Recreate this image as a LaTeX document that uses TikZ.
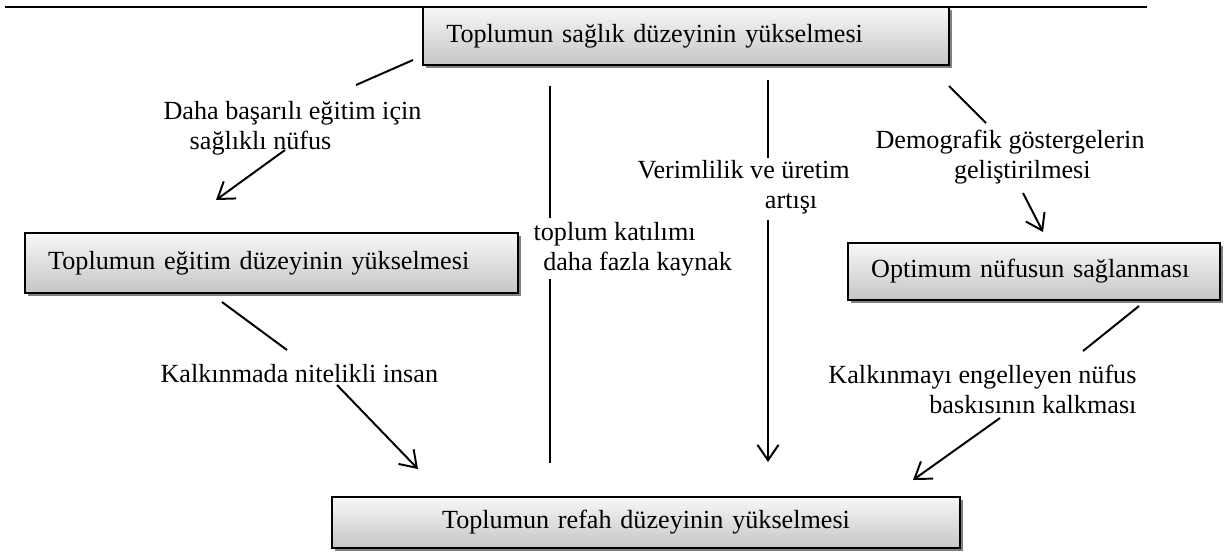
\documentclass[tikz,border=0pt]{standalone}
\usepackage{fontspec}
\setmainfont{Liberation Serif}
\usepackage{tikz}
\usetikzlibrary{arrows.meta,shadows,positioning,calc}
\tikzstyle{box}=[rectangle,draw=black,line width=0.8pt,top color=gray!6,bottom color=gray!45,
  drop shadow={shadow xshift=0.04cm,shadow yshift=-0.04cm,fill=black!50,opacity=1},
  inner xsep=0.29cm,inner ysep=0pt,align=left]
\tikzstyle{lbl}=[inner sep=0pt]
\tikzstyle{link}=[line width=0.7pt]
\tikzstyle{arrow link}=[link,-{Straight Barb[length=5.5pt,width=7.5pt]}]

\begin{document}
\begin{tikzpicture}[x=0.0125cm,y=-0.0125cm,font=\fontsize{9.3}{10.6}\selectfont]
  \useasboundingbox (0,0) rectangle (1232,552);
  \draw[line width=0.7pt] (5,7) -- (1147,7);

  \node[box,minimum height=0.725cm,text width=5.99cm] (saglik) at (686,36) {Toplumun sağlık düzeyinin yükselmesi};
  \node[box,minimum height=0.75cm,text width=5.58cm] (egitim) at (271.5,263) {Toplumun eğitim düzeyinin yükselmesi};
  \node[box,minimum height=0.71cm,text width=4.07cm] (optimum) at (1034,271.5) {Optimum nüfusun sağlanması};
  \node[box,minimum height=0.64cm,text width=7.27cm,align=center] (refah) at (646,522.5) {Toplumun refah düzeyinin yükselmesi};

  \node[lbl,anchor=west,align=left] (basari) at (163,128) {Daha başarılı eğitim için\\\hspace*{1em}sağlıklı nüfus};
  \node[lbl,anchor=west] (nitelik) at (160,374) {Kalkınmada nitelikli insan};
  \node[lbl,anchor=west,align=left] (katilim) at (533,249) {toplum katılımı\\\hspace*{0.37em}daha fazla kaynak};
  \node[lbl,anchor=west,align=left] (verim) at (637,187) {Verimlilik ve üretim\\\hspace*{4.87em}artışı};
  \node[lbl,anchor=west,align=left] (demografik) at (875,157) {Demografik göstergelerin\\\hspace*{3em}geliştirilmesi};
  \node[lbl,anchor=east,align=right] (baski) at (1137,389) {Kalkınmayı engelleyen nüfus\\baskısının kalkması};

  \coordinate (s1) at (413,60);   \coordinate (e1) at (356,85);
  \coordinate (s2) at (285,150);  \coordinate (e2) at (216,200);
  \coordinate (s3) at (222,302);  \coordinate (e3) at (287,350);
  \coordinate (s4) at (337,385);  \coordinate (e4) at (418,469);
  \coordinate (s5) at (550,86);   \coordinate (e5) at (550,218);
  \coordinate (s6) at (550,279);  \coordinate (e6) at (550,463);
  \coordinate (s7) at (768,80);   \coordinate (e7) at (768,158);
  \coordinate (s8) at (768,220);  \coordinate (e8) at (768,462);
  \coordinate (s9) at (949,86);   \coordinate (e9) at (986,123);
  \coordinate (s10) at (1023,193); \coordinate (e10) at (1043,232);
  \coordinate (s11) at (1139,306); \coordinate (e11) at (1083,351);
  \coordinate (s12) at (1000,418); \coordinate (e12) at (913,480);

  \draw[link] (s1) -- (e1);
  \draw[arrow link] (s2) -- (e2);
  \draw[link] (s3) -- (e3);
  \draw[arrow link] (s4) -- (e4);
  \draw[link] (s5) -- (e5);
  \draw[link] (s6) -- (e6);
  \draw[link] (s7) -- (e7);
  \draw[arrow link] (s8) -- (e8);
  \draw[link] (s9) -- (e9);
  \draw[arrow link] (s10) -- (e10);
  \draw[link] (s11) -- (e11);
  \draw[arrow link] (s12) -- (e12);
\end{tikzpicture}
\end{document}
